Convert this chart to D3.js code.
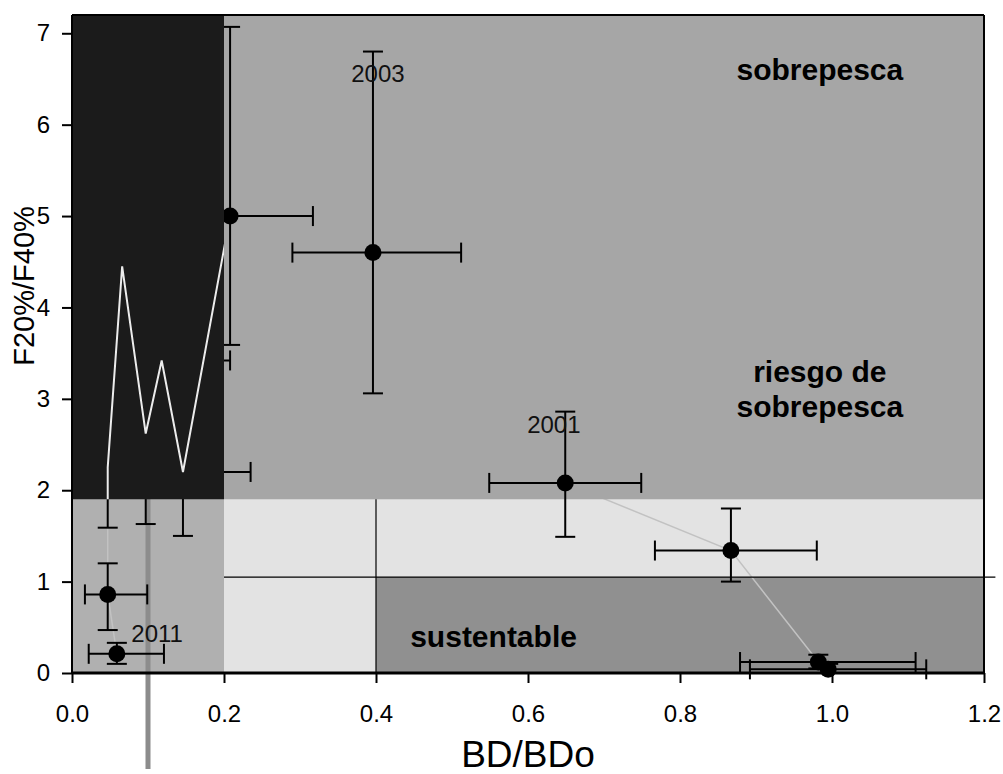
<!DOCTYPE html>
<html>
<head>
<meta charset="utf-8">
<script src="https://cdn.jsdelivr.net/npm/d3@7"></script>
<style>
body { margin: 0; background: #fff; }
svg text { font-family: "Liberation Sans", Arial, sans-serif; }
.axis path, .axis line { stroke: #000; }
</style>
</head>
<body>
<script>
//#### DATA ####
// yearly estimates (BD/BDo vs F20%/F40%) with error bars
var years = [1998, 1999, 2000, 2001, 2003, 2004, 2005, 2006, 2007, 2008, 2009, 2010, 2011];
var bd    = [0.995, 0.982, 0.867, 0.649, 0.396, 0.208, 0.146, 0.118, 0.097, 0.066, 0.047, 0.047, 0.059];
var bdLo  = [0.892, 0.879, 0.767, 0.549, 0.290, 0.100, 0.060, 0.030, 0.040, 0.020, 0.010, 0.017, 0.022];
var bdHi  = [1.124, 1.110, 0.980, 0.749, 0.512, 0.317, 0.235, 0.208, 0.150, 0.110, 0.090, 0.099, 0.121];
var f     = [0.04, 0.12, 1.34, 2.08, 4.60, 5.00, 2.20, 3.42, 2.62, 4.45, 2.25, 0.86, 0.21];
var fLo   = [0.00, 0.05, 1.00, 1.49, 3.06, 3.59, 1.50, 2.50, 1.63, 3.00, 1.59, 0.47, 0.10];
var fHi   = [0.10, 0.20, 1.80, 2.86, 6.80, 7.07, 2.90, 4.30, 3.60, 5.90, 2.90, 1.20, 0.33];

// status zones
var zoneNames = ["agotado", "plena", "plenaBaja", "sustentable", "sobrepesca", "colapso"];
var zoneX0 = [0.0, 0.2, 0.2, 0.4, 0.2, 0.0];
var zoneX1 = [0.2, 1.2, 0.4, 1.2, 1.2, 0.2];
var zoneY0 = [0.0, 1.05, 0.0, 0.0, 1.9, 1.9];
var zoneY1 = [1.9, 1.9, 1.05, 1.05, 7.2, 7.2];

var zoneText = [["sobrepesca"], ["riesgo de", "sobrepesca"], ["sustentable"]];
var yearLabels = [2003, 2001, 2011];

var xTicks = [0, 0.2, 0.4, 0.6, 0.8, 1.0, 1.2];
var yTicks = [0, 1, 2, 3, 4, 5, 6, 7];

// #### layout ####
var width_outer = 1003;
var height_outer = 774;

var x = d3.scaleLinear().domain([0, 1.2]).range([72, 984]);
var y = d3.scaleLinear().domain([0, 7.2]).range([673, 15]);

var zoneFill = {
  colapso: "#1b1b1b",
  sobrepesca: "#a6a6a6",
  agotado: "#b0b0b0",
  plena: "#e3e3e3",
  plenaBaja: "#e3e3e3",
  sustentable: "#909090"
};

// label anchors in data units (x, baseline y)
var zoneTextPos = [[0.984, 6.49, "middle"], [0.984, 3.18, "middle"], [0.445, 0.28, "start"]];
var yearLabelPos = {2003: [0.4026, 6.47], 2001: [0.634, 2.63], 2011: [0.112, 0.34]};

var data = years.map(function(yr, i) {
  return {year: yr, x: bd[i], y: f[i], x0: bdLo[i], x1: bdHi[i], y0: fLo[i], y1: fHi[i]};
});

var zones = zoneNames.map(function(n, i) {
  return {name: n, x0: zoneX0[i], x1: zoneX1[i], y0: zoneY0[i], y1: zoneY1[i]};
});

var svg = d3.select("body").append("svg")
  .attr("width", width_outer)
  .attr("height", height_outer);

function drawZone(z) {
  return svg.append("rect")
    .attr("x", x(z.x0))
    .attr("y", y(z.y1))
    .attr("width", x(z.x1) - x(z.x0))
    .attr("height", y(z.y0) - y(z.y1))
    .style("fill", zoneFill[z.name]);
}

var colapso = zones.filter(function(z) { return z.name == "colapso"; })[0];

svg.append("clipPath")
  .attr("id", "clipColapso")
  .append("rect")
  .attr("x", x(colapso.x0))
  .attr("y", y(colapso.y1))
  .attr("width", x(colapso.x1) - x(colapso.x0))
  .attr("height", y(colapso.y0) - y(colapso.y1));

// lower zones
zones.slice(0, 4).forEach(drawZone);

// trajectory (shows on the light zones, hidden under sobrepesca)
var line = d3.line()
  .x(function(d) { return x(d.x); })
  .y(function(d) { return y(d.y); });

svg.append("path")
  .datum(data)
  .attr("d", line)
  .style("fill", "none")
  .style("stroke", "#c2c2c2")
  .style("stroke-width", 1.5);

drawZone(zones[4]);

// reference lines
svg.append("line")
  .attr("x1", x(0.2)).attr("x2", x(1.215))
  .attr("y1", y(1.05)).attr("y2", y(1.05))
  .style("stroke", "#000").style("stroke-width", 1.2);

svg.append("line")
  .attr("x1", x(0.4)).attr("x2", x(0.4))
  .attr("y1", y(0)).attr("y2", y(1.9))
  .style("stroke", "#000").style("stroke-width", 1.2);

svg.append("line")
  .attr("x1", x(0.1)).attr("x2", x(0.1))
  .attr("y1", y(1.9)).attr("y2", y(-1.05))
  .style("stroke", "#8c8c8c").style("stroke-width", 5);

// error bars
var cap = 10;
var eb = svg.selectAll(".eb")
  .data(data)
  .enter().append("g")
  .attr("class", "eb")
  .style("stroke", "#000")
  .style("stroke-width", 2);

eb.append("line")
  .attr("x1", function(d) { return x(d.x0); })
  .attr("x2", function(d) { return x(d.x1); })
  .attr("y1", function(d) { return y(d.y); })
  .attr("y2", function(d) { return y(d.y); });
eb.append("line")
  .attr("x1", function(d) { return x(d.x0); })
  .attr("x2", function(d) { return x(d.x0); })
  .attr("y1", function(d) { return y(d.y) - cap; })
  .attr("y2", function(d) { return y(d.y) + cap; });
eb.append("line")
  .attr("x1", function(d) { return x(d.x1); })
  .attr("x2", function(d) { return x(d.x1); })
  .attr("y1", function(d) { return y(d.y) - cap; })
  .attr("y2", function(d) { return y(d.y) + cap; });
eb.append("line")
  .attr("x1", function(d) { return x(d.x); })
  .attr("x2", function(d) { return x(d.x); })
  .attr("y1", function(d) { return y(d.y0); })
  .attr("y2", function(d) { return y(d.y1); });
eb.append("line")
  .attr("x1", function(d) { return x(d.x) - cap; })
  .attr("x2", function(d) { return x(d.x) + cap; })
  .attr("y1", function(d) { return y(d.y0); })
  .attr("y2", function(d) { return y(d.y0); });
eb.append("line")
  .attr("x1", function(d) { return x(d.x) - cap; })
  .attr("x2", function(d) { return x(d.x) + cap; })
  .attr("y1", function(d) { return y(d.y1); })
  .attr("y2", function(d) { return y(d.y1); });

// points
svg.selectAll(".dot")
  .data(data)
  .enter().append("circle")
  .attr("class", "dot")
  .attr("r", 8.5)
  .attr("cx", function(d) { return x(d.x); })
  .attr("cy", function(d) { return y(d.y); })
  .style("fill", "#000");

// dark zone covers the marks inside it, only the white trajectory shows there
drawZone(colapso);

svg.append("path")
  .datum(data)
  .attr("d", line)
  .attr("clip-path", "url(#clipColapso)")
  .style("fill", "none")
  .style("stroke", "#ececec")
  .style("stroke-width", 2);

// zone labels
zoneText.forEach(function(lines, i) {
  var t = svg.append("text")
    .attr("x", x(zoneTextPos[i][0]))
    .attr("y", y(zoneTextPos[i][1]))
    .attr("text-anchor", zoneTextPos[i][2])
    .style("font-size", "30px")
    .style("font-weight", "bold")
    .style("fill", "#000");
  lines.forEach(function(s, j) {
    t.append("tspan")
      .attr("x", x(zoneTextPos[i][0]))
      .attr("dy", j == 0 ? 0 : 35)
      .text(s);
  });
});

// year labels
svg.selectAll(".yr")
  .data(yearLabels)
  .enter().append("text")
  .attr("class", "yr")
  .attr("x", function(d) { return x(yearLabelPos[d][0]); })
  .attr("y", function(d) { return y(yearLabelPos[d][1]); })
  .attr("text-anchor", "middle")
  .style("font-size", "24px")
  .style("fill", "#111")
  .text(function(d) { return d; });

// axis
var xAxis = d3.axisBottom(x)
  .tickValues(xTicks)
  .tickSize(10)
  .tickPadding(22)
  .tickFormat(d3.format(".1f"));

var yAxis = d3.axisLeft(y)
  .tickValues(yTicks)
  .tickSize(10)
  .tickPadding(12)
  .tickFormat(d3.format("d"));

var gx = svg.append("g")
  .attr("class", "x axis")
  .attr("transform", "translate(0," + y(0) + ")")
  .call(xAxis);
gx.select(".domain").remove();
gx.selectAll("line").style("stroke-width", 2);
gx.selectAll("text").style("font-size", "24px").style("fill", "#000");

var gy = svg.append("g")
  .attr("class", "y axis")
  .attr("transform", "translate(" + x(0) + ",0)")
  .call(yAxis);
gy.select(".domain").remove();
gy.selectAll("line").style("stroke-width", 2);
gy.selectAll("text").style("font-size", "24px").style("fill", "#000");

// frame
svg.append("line")
  .attr("x1", x(0)).attr("x2", x(1.2))
  .attr("y1", y(0)).attr("y2", y(0))
  .style("stroke", "#000").style("stroke-width", 3);
svg.append("line")
  .attr("x1", x(0)).attr("x2", x(0))
  .attr("y1", y(0)).attr("y2", y(7.2))
  .style("stroke", "#000").style("stroke-width", 2);
svg.append("line")
  .attr("x1", x(0)).attr("x2", x(1.2))
  .attr("y1", y(7.2)).attr("y2", y(7.2))
  .style("stroke", "#000").style("stroke-width", 2);
svg.append("line")
  .attr("x1", x(1.2)).attr("x2", x(1.2))
  .attr("y1", y(0)).attr("y2", y(7.2))
  .style("stroke", "#000").style("stroke-width", 2);

// titles
svg.append("text")
  .attr("x", x(0.6))
  .attr("y", 767)
  .attr("text-anchor", "middle")
  .style("font-size", "37px")
  .text("BD/BDo");

svg.append("text")
  .attr("transform", "translate(34,286) rotate(-90)")
  .attr("text-anchor", "middle")
  .style("font-size", "29px")
  .text("F20%/F40%");
</script>
</body>
</html>
